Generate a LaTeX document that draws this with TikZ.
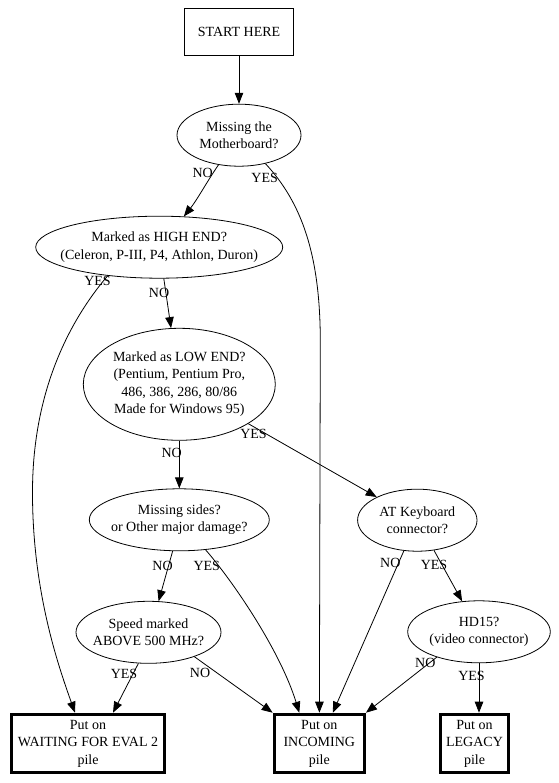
\documentclass[tikz,border=0pt]{standalone}
\usepackage{fontspec}
\setmainfont{Liberation Serif}
\usetikzlibrary{calc,shapes.geometric,arrows.meta}

\tikzset{
  every node/.style={font=\fontsize{14}{17.5}\selectfont, inner sep=0pt},
  txt/.style={align=center},
  dec/.style={draw, ellipse, line width=0.8pt, minimum height=62pt},
  pile/.style={draw, rectangle, line width=3pt, align=center, minimum height=58.6pt},
  edge/.style={line width=0.8pt, -{Triangle[length=11pt,width=8.5pt]}}
}

\begin{document}
\begin{tikzpicture}[x=1pt, y=-1pt]
  \path[use as bounding box, fill=white] (0,0) rectangle (558,783);

  % start box and questions
  \node (start) at (239,31.7) [draw, line width=0.8pt, minimum width=109.4pt, minimum height=46.7pt] {START HERE};
  \node (mb) at (239,135.2) [dec, minimum width=124pt, label={[txt]center:Missing the\\Motherboard?}] {};
  \node (high) at (159.2,247.2) [dec, minimum width=247pt, label={[txt]center:Marked as HIGH END?\\(Celeron, P-III, P4, Athlon, Duron)}] {};
  \node (low) at (179.3,384.3) [dec, minimum width=192pt, minimum height=112pt, label={[txt]center:Marked as LOW END?\\(Pentium, Pentium Pro,\\486, 386, 286, 80/86\\Made for Windows 95)}] {};
  \node (sides) at (179.3,519.8) [dec, minimum width=180pt, label={[txt]center:Missing sides?\\or Other major damage?}] {};
  \node (at) at (417.3,520.2) [dec, minimum width=119.4pt, label={[txt]center:AT Keyboard\\connector?}] {};
  \node (speed) at (148.5,632.3) [dec, minimum width=145pt, label={[txt]center:Speed marked\\ABOVE 500 MHz?}] {};
  \node (hd) at (479,631.8) [dec, minimum width=142.6pt, label={[txt]center:HD15?\\(video connector)}] {};

  % piles
  \node (wait) at (88,743.5) [pile, minimum width=153pt] {Put on\\WAITING FOR EVAL 2\\pile};
  \node (inc) at (319.3,743.5) [pile, minimum width=90.3pt] {Put on\\INCOMING\\pile};
  \node (leg) at (474.5,743.5) [pile, minimum width=68.7pt] {Put on\\LEGACY\\pile};

  % connectors
  \draw [edge] (start) -- (mb);
  \draw [edge] (mb) .. controls (208,180) and (197,200) .. (high);
  \draw [edge] (mb) .. controls (302,203) and (320,255) .. (320.3,340) -- (inc);
  \draw [edge] (high.209) .. controls (70,320) and (33,390) .. (32.5,490)
                          .. controls (32,590) and (58,665) .. ([xshift=-13pt]wait.north);
  \draw [edge] (high) -- (low);
  \draw [edge] (low) -- (sides);
  \draw [edge] (low) -- (at);
  \draw [edge] (sides.-102) -- (speed.72);
  \draw [edge] (sides) .. controls (232,580) and (280,650) .. ([xshift=-20pt]inc.north);
  \draw [edge] (at) -- (inc);
  \draw [edge] (at) -- (hd);
  \draw [edge] (speed.-108) -- ([xshift=25pt]wait.north);
  \draw [edge] (speed.-28) -- (inc.north west);
  \draw [edge] (hd.-149) -- (inc.north east);
  \draw [edge] (hd) -- (hd |- leg.north);

  % answers
  \node (noMb) at ($(mb)+(-36.3,37.8)$) {NO};
  \node (yesMb) at ($(mb)+(25.7,42.8)$) {YES};
  \node (yesHigh) at ($(high)+(-61.7,33.8)$) {YES};
  \node (noHigh) at ($(high)+(-0.2,45.5)$) {NO};
  \node (noLow) at ($(low)+(-7.6,68.4)$) {NO};
  \node (yesLow) at ($(low)+(74.2,50)$) {YES};
  \node (noSides) at ($(sides)+(-16.8,46.2)$) {NO};
  \node (yesSides) at ($(sides)+(27.5,46.2)$) {YES};
  \node (noAt) at ($(at)+(-27,42.8)$) {NO};
  \node (yesAt) at ($(at)+(16.7,44.3)$) {YES};
  \node (yesSpeed) at ($(speed)+(-24.5,41.4)$) {YES};
  \node (noSpeed) at ($(speed)+(51.5,40.4)$) {NO};
  \node (noHd) at ($(hd)+(-53.7,30.9)$) {NO};
  \node (yesHd) at ($(hd)+(-7.5,44.2)$) {YES};
\end{tikzpicture}
\end{document}
